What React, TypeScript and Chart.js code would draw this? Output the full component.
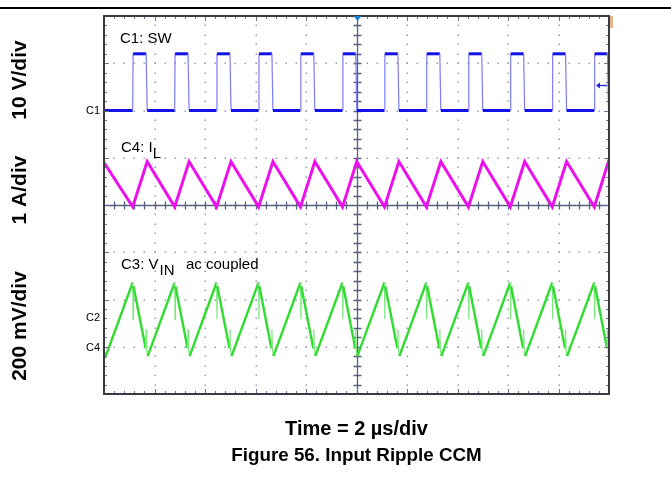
import React, { useEffect, useRef } from "react";
import { Chart, registerables } from "chart.js";

Chart.register(...registerables);

// ---- time base: 10 divisions x 2 µs/div ----
const timeRangeUs = [0, 20];
const usPerDiv = 2;
const verticalDivs = 8;

// ---- C1: switch node (10 V/div) ----
const swRiseUs = [1.137, 2.8, 4.459, 6.123, 7.782, 9.446, 11.109, 12.768, 14.432, 16.091, 17.754, 19.418];
const swFallUs = [1.67, 3.33, 4.99, 6.65, 8.31, 9.97, 11.64, 13.3, 14.96, 16.62, 18.28, 19.94];
const swLevelsV = [0, 12]; // low, high
const swEdgeUs = [0.015, 0.04]; // rise, fall durations
const triggerLevelV = 5.4;

// ---- C4: inductor current (1 A/div) ----
const ilStartA = 3.93;
const ilValleyA = 2.99;
const ilPeakA = 3.95;
const ilEndA = 3.92;

// ---- C3: input ripple, ac coupled (200 mV/div) ----
const vinStartMv = -140;
const vinPeakMv = 156;
const vinPeakSpikeMv = 0;
const vinAfterPeakMv = 140;
const vinPreValleyMv = -122;
const vinValleySpikeMv = -42;
const vinValleyMv = -156;
const vinEndMv = -150;

// ---- channel settings: ground position (div from centre) and scale ----
const ch1 = { offsetDiv: 2.0, unitsPerDiv: 10 };
const ch4 = { offsetDiv: -3.03, unitsPerDiv: 1 };
const ch3 = { offsetDiv: -2.42, unitsPerDiv: 200 };

const axisLabels = ["10 V/div", "1 A/div", "200 mV/div"];
const traceLabels = ["C1: SW", "C4: I", "C3: V"];
const markerLabels = ["C1", "C2", "C4"];
const xTitle = "Time = 2 µs/div";
const figTitle = "Figure 56. Input Ripple CCM";

type P = { x: number; y: number };
const toDiv = (ch: { offsetDiv: number; unitsPerDiv: number }, v: number) => ch.offsetDiv + v / ch.unitsPerDiv;

function buildSW(): P[] {
  const pts: P[] = [{ x: timeRangeUs[0], y: toDiv(ch1, swLevelsV[0]) }];
  swRiseUs.forEach((r, i) => {
    const f = swFallUs[i];
    pts.push({ x: r, y: toDiv(ch1, swLevelsV[0]) });
    pts.push({ x: r + swEdgeUs[0], y: toDiv(ch1, swLevelsV[1]) });
    pts.push({ x: f, y: toDiv(ch1, swLevelsV[1]) });
    pts.push({ x: f + swEdgeUs[1], y: toDiv(ch1, swLevelsV[0]) });
  });
  pts.push({ x: timeRangeUs[1], y: toDiv(ch1, swLevelsV[0]) });
  return pts;
}

function buildIL(): P[] {
  const pts: P[] = [{ x: timeRangeUs[0], y: toDiv(ch4, ilStartA) }];
  swRiseUs.forEach((r, i) => {
    pts.push({ x: r, y: toDiv(ch4, ilValleyA) });
    pts.push({ x: swFallUs[i] + 0.04, y: toDiv(ch4, ilPeakA) });
  });
  pts.push({ x: timeRangeUs[1], y: toDiv(ch4, ilEndA) });
  return pts;
}

function buildVIN(): P[] {
  const pts: P[] = [
    { x: timeRangeUs[0], y: toDiv(ch3, vinStartMv) },
    { x: 0.07, y: toDiv(ch3, vinValleyMv) },
  ];
  swRiseUs.forEach((r, i) => {
    const f = swFallUs[i];
    pts.push({ x: r, y: toDiv(ch3, vinPeakMv) });
    pts.push({ x: r + 0.015, y: toDiv(ch3, vinPeakSpikeMv) });
    pts.push({ x: r + 0.03, y: toDiv(ch3, vinAfterPeakMv) });
    pts.push({ x: f - 0.02, y: toDiv(ch3, vinPreValleyMv) });
    pts.push({ x: f, y: toDiv(ch3, vinValleySpikeMv) });
    pts.push({ x: f + 0.02, y: toDiv(ch3, vinPreValleyMv - 8) });
    if (f + 0.06 < timeRangeUs[1]) pts.push({ x: f + 0.06, y: toDiv(ch3, vinValleyMv) });
  });
  pts.push({ x: timeRangeUs[1], y: toDiv(ch3, vinEndMv) });
  return pts;
}

const FONT = '"Liberation Sans", Arial, Helvetica, sans-serif';

const scopePlugin = {
  id: "scope",
  beforeDraw(chart: any) {
    const { ctx, width, height } = chart;
    ctx.save();
    ctx.fillStyle = "#ffffff";
    ctx.fillRect(0, 0, width, height);
    // header rule
    ctx.fillStyle = "#000000";
    ctx.fillRect(0, 7, width, 2);
    ctx.restore();
  },
  beforeDatasetsDraw(chart: any) {
    const { ctx, chartArea: a } = chart;
    const xs = chart.scales.x;
    const ys = chart.scales.y;
    const xMinor = usPerDiv / 5;
    const yMinor = 0.2;
    ctx.save();
    // dotted grid
    ctx.fillStyle = "#9a9cae";
    for (let d = 1; d < 10; d++) {
      if (d === 5) continue;
      const px = Math.round(xs.getPixelForValue(d * usPerDiv));
      for (let j = 1; j < verticalDivs * 5; j++) {
        const py = Math.round(ys.getPixelForValue(-4 + j * yMinor));
        ctx.fillRect(px - 0.5, py - 0.5, 1.5, 1.5);
      }
    }
    for (let d = 1; d < verticalDivs; d++) {
      if (d === 4) continue;
      const py = Math.round(ys.getPixelForValue(-4 + d));
      for (let j = 1; j < 50; j++) {
        const px = Math.round(xs.getPixelForValue(j * xMinor));
        ctx.fillRect(px - 0.5, py - 0.5, 1.5, 1.5);
      }
    }
    // centre cross with ticks
    const cx = Math.round(xs.getPixelForValue(10)) + 0.5;
    const cy = Math.round(ys.getPixelForValue(0)) + 0.5;
    ctx.strokeStyle = "#56607c";
    ctx.lineWidth = 1.3;
    ctx.beginPath();
    ctx.moveTo(cx, a.top);
    ctx.lineTo(cx, a.bottom);
    ctx.moveTo(a.left, cy);
    ctx.lineTo(a.right, cy);
    for (let j = 1; j < 50; j++) {
      const px = Math.round(xs.getPixelForValue(j * xMinor)) + 0.5;
      ctx.moveTo(px, cy - 4);
      ctx.lineTo(px, cy + 4);
    }
    for (let j = 1; j < verticalDivs * 5; j++) {
      const py = Math.round(ys.getPixelForValue(-4 + j * yMinor)) + 0.5;
      ctx.moveTo(cx - 4, py);
      ctx.lineTo(cx + 4, py);
    }
    ctx.stroke();
    ctx.restore();
  },
  afterDatasetsDraw(chart: any) {
    const { ctx, chartArea: a } = chart;
    const xs = chart.scales.x;
    const ys = chart.scales.y;
    ctx.save();
    // edge ticks
    ctx.strokeStyle = "#6c7290";
    ctx.lineWidth = 1;
    ctx.beginPath();
    for (let j = 1; j < 50; j++) {
      const px = Math.round(xs.getPixelForValue(j * usPerDiv / 5)) + 0.5;
      const len = j % 5 === 0 ? 5 : 3;
      ctx.moveTo(px, a.top);
      ctx.lineTo(px, a.top + len);
      ctx.moveTo(px, a.bottom);
      ctx.lineTo(px, a.bottom - len);
    }
    for (let j = 1; j < verticalDivs * 5; j++) {
      const py = Math.round(ys.getPixelForValue(-4 + j * 0.2)) + 0.5;
      const len = j % 5 === 0 ? 5 : 3;
      ctx.moveTo(a.left, py);
      ctx.lineTo(a.left + len, py);
      ctx.moveTo(a.right, py);
      ctx.lineTo(a.right - len, py);
    }
    ctx.stroke();
    // frame
    ctx.strokeStyle = "#3a3a44";
    ctx.lineWidth = 2;
    ctx.strokeRect(a.left, a.top, a.right - a.left, a.bottom - a.top);

    // trigger marker at top centre
    const cx = Math.round(xs.getPixelForValue(10)) + 0.5;
    ctx.fillStyle = "#1d7fd4";
    ctx.beginPath();
    ctx.moveTo(cx - 4, a.top);
    ctx.lineTo(cx + 4, a.top);
    ctx.lineTo(cx, a.top + 5);
    ctx.closePath();
    ctx.fill();
    // orange marker top-right
    ctx.fillStyle = "#e6b48c";
    ctx.fillRect(a.right + 1, a.top, 3, 12);
    // trigger level arrow on right
    const ty = Math.round(ys.getPixelForValue(toDiv(ch1, triggerLevelV)));
    ctx.strokeStyle = "#2424e0";
    ctx.fillStyle = "#2424e0";
    ctx.lineWidth = 1.3;
    ctx.beginPath();
    ctx.moveTo(a.right - 12, ty + 0.5);
    ctx.lineTo(a.right - 2, ty + 0.5);
    ctx.stroke();
    ctx.beginPath();
    ctx.moveTo(a.right - 13, ty + 0.5);
    ctx.lineTo(a.right - 9, ty - 2.5);
    ctx.lineTo(a.right - 9, ty + 3.5);
    ctx.closePath();
    ctx.fill();

    ctx.fillStyle = "#000000";
    // trace labels
    ctx.font = `15px ${FONT}`;
    ctx.textBaseline = "alphabetic";
    ctx.textAlign = "left";
    ctx.fillText(traceLabels[0], 120, 43);
    ctx.fillText(traceLabels[1], 121, 152);
    let w = ctx.measureText(traceLabels[1]).width;
    ctx.fillText("L", 121 + w, 158);
    ctx.fillText(traceLabels[2], 121, 269);
    w = ctx.measureText(traceLabels[2]).width;
    ctx.fillText("IN", 122 + w, 275);
    ctx.fillText("ac coupled", 186, 269);

    // channel markers
    ctx.font = `11px ${FONT}`;
    ctx.textAlign = "right";
    ctx.textBaseline = "middle";
    ctx.fillText(markerLabels[0], a.left - 4, ys.getPixelForValue(ch1.offsetDiv));
    ctx.fillText(markerLabels[1], a.left - 4, 318);
    ctx.fillText(markerLabels[2], a.left - 4, ys.getPixelForValue(ch4.offsetDiv));

    // left rotated axis labels
    ctx.font = `bold 21px ${FONT}`;
    ctx.textAlign = "center";
    ctx.textBaseline = "middle";
    const lab = (t: string, y: number) => {
      ctx.save();
      ctx.translate(20, y);
      ctx.rotate(-Math.PI / 2);
      ctx.fillText(t, 0, 0);
      ctx.restore();
    };
    lab(axisLabels[0], 80);
    lab(axisLabels[1], 190);
    lab(axisLabels[2], 326);

    // bottom titles
    const mid = (a.left + a.right) / 2;
    ctx.textBaseline = "alphabetic";
    ctx.font = `bold 20px ${FONT}`;
    ctx.fillText(xTitle, mid, 435);
    ctx.font = `bold 18.8px ${FONT}`;
    ctx.fillText(figTitle, mid, 461);
    ctx.restore();
  },
};

const steep = (c: any) => Math.abs(c.p1.parsed.x - c.p0.parsed.x) < 0.05;

export default function App() {
  const ref = useRef<HTMLCanvasElement>(null);
  useEffect(() => {
    document.body.style.margin = "0";
    const canvas = ref.current!;
    const chart = new Chart(canvas, {
      type: "line",
      data: {
        datasets: [
          {
            label: "C1 SW",
            data: buildSW(),
            borderColor: "#1212e6",
            borderWidth: 3,
            pointRadius: 0,
            tension: 0,
            segment: {
              borderWidth: (c: any) => (steep(c) ? 1.2 : 3),
              borderColor: (c: any) => (steep(c) ? "#7c7cf6" : "#1212e6"),
            },
          },
          {
            label: "C4 IL",
            data: buildIL(),
            borderColor: "#ec10ec",
            borderWidth: 3,
            pointRadius: 0,
            tension: 0,
          },
          {
            label: "C3 VIN",
            data: buildVIN(),
            borderColor: "#2fdc2f",
            borderWidth: 2.4,
            pointRadius: 0,
            tension: 0,
            segment: {
              borderWidth: (c: any) => (steep(c) ? 1.2 : 2.4),
              borderColor: (c: any) => (steep(c) ? "#7ee87e" : "#2fdc2f"),
            },
          },
        ],
      },
      options: {
        animation: false,
        responsive: false,
        devicePixelRatio: 1,
        parsing: false,
        layout: { padding: { left: 104, right: 62, top: 16, bottom: 87 } },
        plugins: { legend: { display: false }, tooltip: { enabled: false }, title: { display: false } },
        events: [],
        scales: {
          x: { type: "linear", min: timeRangeUs[0], max: timeRangeUs[1], display: false },
          y: { type: "linear", min: -verticalDivs / 2, max: verticalDivs / 2, display: false },
        },
      } as any,
      plugins: [scopePlugin],
    });
    return () => chart.destroy();
  }, []);
  return (
    <div style={{ position: "fixed", left: 0, top: 0, width: 671, height: 481, background: "#fff" }}>
      <canvas ref={ref} width={671} height={481} style={{ width: 671, height: 481, display: "block" }} />
    </div>
  );
}
